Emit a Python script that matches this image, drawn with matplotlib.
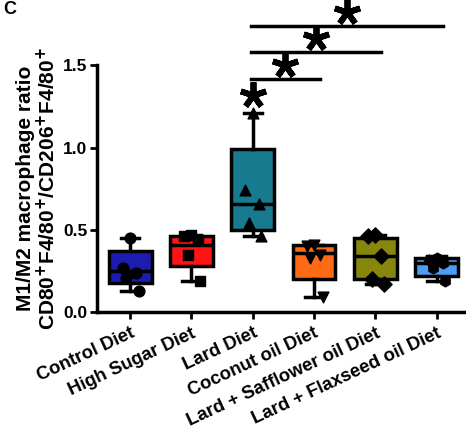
import matplotlib
matplotlib.use("Agg")
import matplotlib.pyplot as plt

plt.rcParams['font.family'] = ['Liberation Sans', 'DejaVu Sans']
plt.rcParams['font.weight'] = 'bold'

# data
diets = ["Control Diet", "High Sugar Diet", "Lard Diet", "Coconut oil Diet",
         "Lard + Safflower oil Diet", "Lard + Flaxseed oil Diet"]
q1 = [0.18, 0.28, 0.50, 0.20, 0.20, 0.22]
med = [0.25, 0.41, 0.66, 0.36, 0.34, 0.30]
q3 = [0.37, 0.46, 0.99, 0.41, 0.45, 0.33]
lo = [0.13, 0.19, 0.46, 0.09, 0.17, 0.19]
hi = [0.45, 0.47, 1.21, 0.41, 0.47, 0.34]
points = [
    [0.45, 0.27, 0.24, 0.21, 0.13],
    [0.47, 0.46, 0.44, 0.35, 0.19],
    [1.21, 0.74, 0.66, 0.54, 0.46],
    [0.41, 0.40, 0.35, 0.33, 0.09],
    [0.47, 0.46, 0.34, 0.20, 0.17],
    [0.33, 0.32, 0.30, 0.27, 0.19],
]
colors = ["#1c1cb0", "#ff1414", "#177a8e", "#ff6a14", "#87870e", "#4c9cf2"]
markers = ["o", "s", "^", "v", "D", "h"]

# significance comparisons (Lard vs ...)
sig_pairs = [(2, 3), (2, 4), (2, 5)]
sig_heights = [1.42, 1.58, 1.74]

fig = plt.figure(figsize=(4.66, 4.30), dpi=100)
ax = fig.add_axes([0.208, 0.274, 0.787, 0.574])

stats = []
for i in range(len(diets)):
    stats.append({"med": med[i], "q1": q1[i], "q3": q3[i],
                  "whislo": lo[i], "whishi": hi[i], "fliers": []})

bp = ax.bxp(stats, positions=range(len(diets)), widths=0.7, patch_artist=True,
            showfliers=False, capwidths=0.3,
            boxprops=dict(linewidth=2.5, edgecolor="black"),
            medianprops=dict(color="black", linewidth=2.5),
            whiskerprops=dict(color="black", linewidth=2.5),
            capprops=dict(color="black", linewidth=2.5))
for patch, c in zip(bp["boxes"], colors):
    patch.set_facecolor(c)

offsets = [0.0, -0.12, 0.1, -0.06, 0.14]
for i, vals in enumerate(points):
    xs = [i + offsets[k % len(offsets)] for k in range(len(vals))]
    ax.scatter(xs, vals, marker=markers[i], s=60, color="black", zorder=5,
               clip_on=False)

# asterisks drawn as 5-armed star markers
star = dict(marker=(5, 2, 0), markersize=19, markeredgewidth=4.2,
            color="black", clip_on=False, zorder=6)
ax.plot(2, 1.32, **star)
for (a, b), h in zip(sig_pairs, sig_heights):
    ax.plot([a - 0.03, b + 0.1], [h, h], color="black", lw=2.5, clip_on=False)
    ax.plot((a + b) / 2 + 0.03, h + 0.085, **star)

ax.set_xlim(-0.54, 5.44)
ax.set_ylim(0, 1.5)
ax.set_yticks([0.0, 0.5, 1.0, 1.5])
ax.set_yticklabels(["0.0", "0.5", "1.0", "1.5"])
ax.set_xticks(range(len(diets)))
ax.set_xticklabels(diets, rotation=25, ha="right", rotation_mode="anchor",
                   fontsize=13.3, fontweight="bold")
ax.tick_params(axis="y", labelsize=12.5, width=2, length=5, pad=2)
ax.tick_params(axis="x", width=2, length=5, pad=4)
for s in ["top", "right"]:
    ax.spines[s].set_visible(False)
for s in ["left", "bottom"]:
    ax.spines[s].set_linewidth(2.5)

ax.set_ylabel("M1/M2 macrophage ratio\nCD80$^\\mathbf{+}$F4/80$^\\mathbf{+}$/CD206$^\\mathbf{+}$F4/80$^\\mathbf{+}$",
              fontsize=15, fontweight="bold", labelpad=3, linespacing=1.0)

fig.text(0.008, 0.998, "C", fontsize=13, fontweight="bold", va="top")

fig.savefig("out.png", dpi=100)
